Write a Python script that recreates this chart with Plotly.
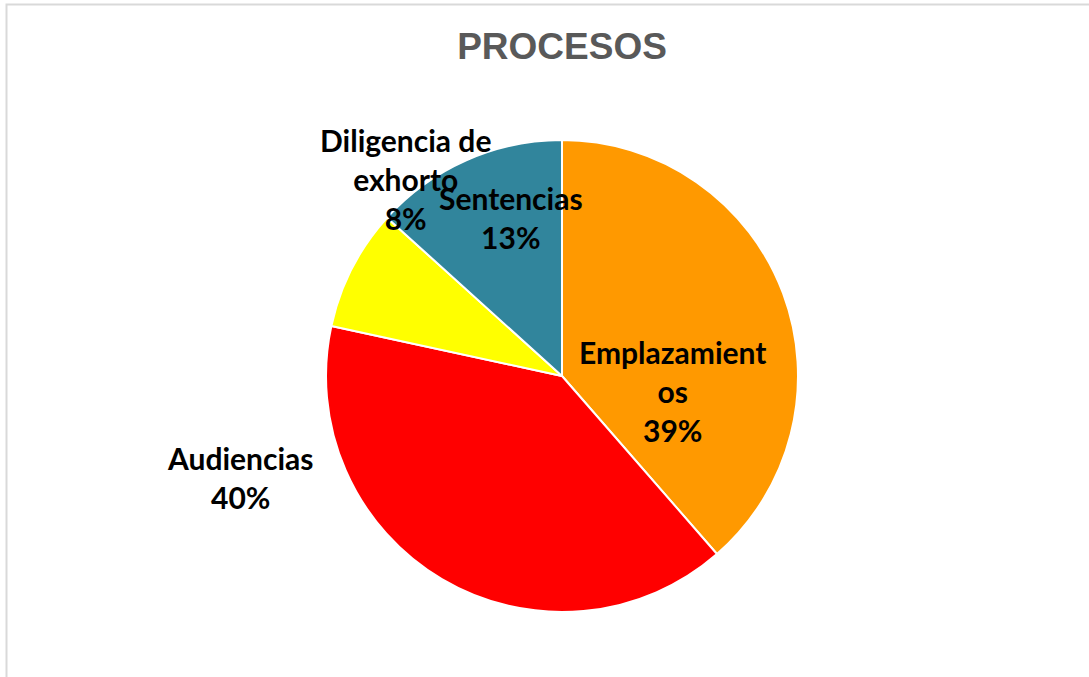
import plotly.graph_objects as go

# slices, clockwise from 12 o'clock
labels = ["Emplazamientos", "Audiencias", "Diligencia de exhorto", "Sentencias"]
values = [38.6, 39.8, 8.3, 13.3]
colors = ["#FF9900", "#FF0000", "#FFFF00", "#31859C"]
# label text as it wraps in the original
label_text = ["Emplazamient<br>os", "Audiencias", "Diligencia de<br>exhorto", "Sentencias"]

W, H = 1089, 677


def px_x(px):
    return px / W


def px_y(py):
    return 1 - py / H


cx, cy, r = 562, 376, 236

fig = go.Figure()
fig.add_trace(go.Pie(
    labels=labels, values=values, sort=False, direction="clockwise", rotation=0,
    marker=dict(colors=colors, line=dict(color="white", width=2)),
    textinfo="none", hoverinfo="label+percent", showlegend=False,
    domain=dict(x=[px_x(cx - r), px_x(cx + r)], y=[px_y(cy + r), px_y(cy - r)]),
))

# label anchor points (pixels)
label_pos = [(672, 391), (240, 477), (405, 179), (511, 217)]
total = sum(values)
for txt, v, (px, py) in zip(label_text, values, label_pos):
    fig.add_annotation(
        x=px_x(px), y=px_y(py), xref="paper", yref="paper",
        text=f"{txt}<br>{round(v / total * 100)}%", showarrow=False,
        font=dict(family="Lato", size=30, color="black", weight="bold"),
        xanchor="center", yanchor="middle", align="center",
    )

# outer chart border
fig.add_shape(type="rect", xref="paper", yref="paper",
              x0=px_x(6.5), x1=1.02, y0=-0.02, y1=px_y(4.5),
              line=dict(color="#D9D9D9", width=2))

fig.update_layout(
    title=dict(text="<b>PROCESOS</b>", x=px_x(562), xanchor="center", y=px_y(46), yanchor="middle",
               font=dict(family="Liberation Sans", size=37, color="#595959")),
    width=W, height=H,
    margin=dict(l=0, r=0, t=0, b=0),
    paper_bgcolor="white", plot_bgcolor="white",
)

# drop the default page margin so the figure sits at the window corner
fig.write_html("out.html", config={"displayModeBar": False},
               post_script="document.body.style.margin='0';")
